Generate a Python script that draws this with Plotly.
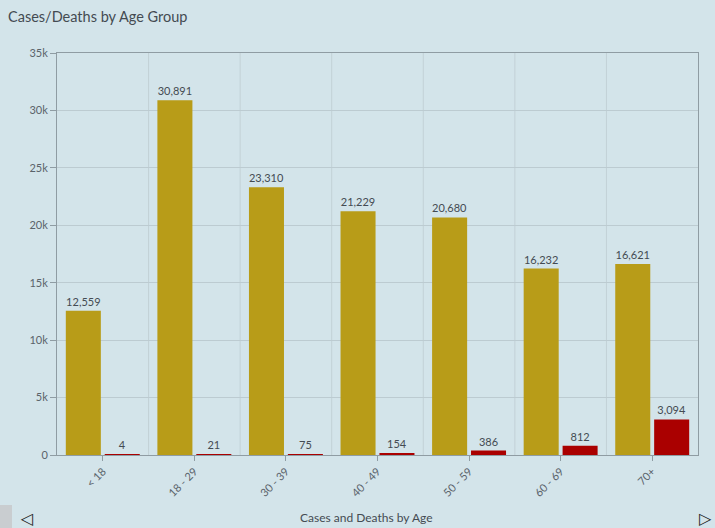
import plotly.graph_objects as go

age_groups = ["< 18", "18 - 29", "30 - 39", "40 - 49", "50 - 59", "60 - 69", "70+"]
cases = [12559, 30891, 23310, 21229, 20680, 16232, 16621]
deaths = [4, 21, 75, 154, 386, 812, 3094]
y_ticks = [0, 5000, 10000, 15000, 20000, 25000, 30000, 35000]
y_tick_labels = ["0", "5k", "10k", "15k", "20k", "25k", "30k", "35k"]

BG = "#d3e4ea"
TXT = "#444b52"
FONT = "Lato"

fig = go.Figure()
fig.add_trace(go.Bar(
    x=age_groups, y=cases, name="Cases",
    marker=dict(color="#b89c18", line=dict(width=0)),
    text=[f"{v:,}" for v in cases], textposition="outside",
    textfont=dict(family=FONT, size=11, color=TXT), cliponaxis=False,
))
fig.add_trace(go.Bar(
    x=age_groups, y=deaths, name="Deaths",
    marker=dict(color="#aa0000", line=dict(width=0)),
    text=[f"{v:,}" for v in deaths], textposition="outside",
    textfont=dict(family=FONT, size=11, color=TXT), cliponaxis=False,
))

fig.update_layout(
    width=715, height=528,
    paper_bgcolor=BG, plot_bgcolor=BG,
    margin=dict(l=57, r=17, t=53, b=73),
    barmode="group", bargap=0.15, bargroupgap=0.1,
    showlegend=False,
    font=dict(family=FONT, size=11, color=TXT),
    title=dict(text="Cases/Deaths by Age Group", x=8/715, xanchor="left",
               y=1 - 17/528, yanchor="middle",
               font=dict(family=FONT, size=14.5, color=TXT)),
    xaxis=dict(
        tickangle=-45, showgrid=False, showline=True, linecolor="#8f9ca3",
        linewidth=1, mirror=True, ticks="outside", ticklen=5, tickcolor="#8f9ca3",
        tickfont=dict(family=FONT, size=11, color="#5a636a"),
    ),
    yaxis=dict(
        range=[0, 35000], tickvals=y_ticks, ticktext=y_tick_labels,
        showgrid=True, gridcolor="#bccbd1", showline=True, linecolor="#8f9ca3",
        linewidth=1, mirror=True, ticks="outside", ticklen=6, tickcolor="#8f9ca3",
        tickfont=dict(family=FONT, size=11, color="#5a636a"), zeroline=False,
    ),
    shapes=[
        *[dict(type="line", xref="x", yref="paper", x0=i + 0.5, x1=i + 0.5, y0=0, y1=1,
               line=dict(color="#c2d1d6", width=1), layer="below")
          for i in range(len(age_groups) - 1)],
        dict(type="rect", xref="paper", yref="paper", x0=-57/641, x1=-45/641,
             y0=(455-528)/402, y1=(455-505)/402, fillcolor="#c9cdd0",
             line=dict(width=0)),
    ],
    annotations=[
        dict(text="Cases and Deaths by Age", xref="paper", yref="paper",
             x=(366-57)/641, y=(455-517)/402, showarrow=False,
             xanchor="center", yanchor="middle",
             font=dict(family=FONT, size=12, color=TXT)),
        dict(text="◁", xref="paper", yref="paper", x=(27-57)/641, y=(455-518)/402,
             showarrow=False, xanchor="center", yanchor="middle",
             font=dict(family="DejaVu Sans", size=16, color="#222")),
        dict(text="▷", xref="paper", yref="paper", x=(705-57)/641, y=(455-518)/402,
             showarrow=False, xanchor="center", yanchor="middle",
             font=dict(family="DejaVu Sans", size=16, color="#222")),
    ],
)

fig.write_html("out.html", config={"displayModeBar": False},
               post_script="document.body.style.margin='0';")
